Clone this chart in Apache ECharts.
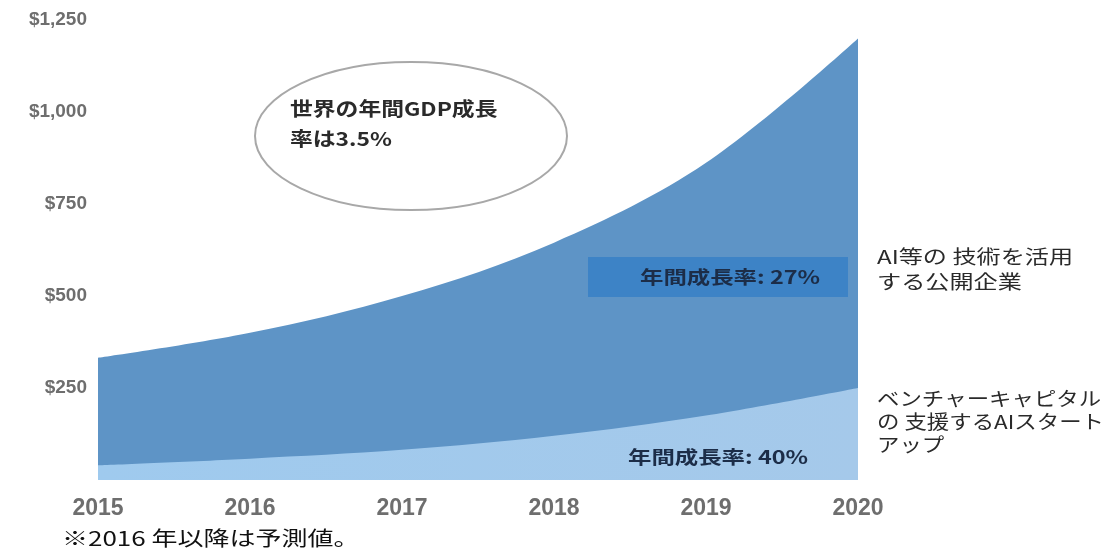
<!DOCTYPE html>
<html>
<head>
<meta charset="utf-8">
<script src="https://cdn.jsdelivr.net/npm/echarts@6/dist/echarts.min.js"></script>
<style>
  html, body { margin: 0; padding: 0; background: #ffffff; }
  #chart { width: 1108px; height: 558px; }
</style>
</head>
<body>
<div id="chart"></div>
<script>
// Market size (USD billions) by year
const years = ['2015', '2016', '2017', '2018', '2019', '2020'];
// Public companies using AI and related technologies (27% annual growth)
const publicCompanies = [332, 400, 500, 645, 862, 1200];
// VC-backed AI startups (40% annual growth)
const vcStartups = [40, 58, 82, 120, 175, 250];
// Value axis tick labels
const yTicks = [0, 250, 500, 750, 1000, 1250];
const yTickLabels = ['', '$250', '$500', '$750', '$1,000', '$1,250'];

const CJK = '"Noto Sans CJK JP", "Noto Sans", sans-serif';
const LATIN = '"Liberation Sans", Arial, sans-serif';

// Left-anchored text, optionally widened horizontally
function label(x, y, text, font, fill, lineHeight, scaleX) {
  return {
    type: 'text', x: x, y: y, scaleX: scaleX || 1, scaleY: 1, z: 11,
    style: {
      text: text, font: font, fill: fill,
      lineHeight: lineHeight, align: 'left', verticalAlign: 'top'
    }
  };
}

const chart = echarts.init(document.getElementById('chart'));

chart.setOption({
  animation: false,
  backgroundColor: '#ffffff',
  grid: { left: 98, right: 250, top: 20, bottom: 78 },
  xAxis: {
    type: 'category',
    data: years,
    boundaryGap: false,
    axisLine: { show: false },
    axisTick: { show: false },
    axisLabel: {
      color: '#6e6e6e', fontSize: 23, fontWeight: 'bold', fontFamily: LATIN,
      margin: 17, showMinLabel: true, showMaxLabel: true
    },
    splitLine: { show: false }
  },
  yAxis: {
    type: 'value',
    min: 0, max: 1250, interval: 250,
    axisLine: { show: false },
    axisTick: { show: false },
    splitLine: { show: false },
    axisLabel: {
      color: '#6e6e6e', fontSize: 19, fontWeight: 'bold', fontFamily: LATIN,
      margin: 11,
      formatter: v => yTickLabels[yTicks.indexOf(v)] ?? ''
    }
  },
  series: [
    {
      name: 'AI等の技術を活用する公開企業',
      type: 'line',
      data: publicCompanies,
      smooth: 0.35,
      showSymbol: false,
      lineStyle: { width: 0 },
      areaStyle: { color: '#5e94c6', opacity: 1 },
      z: 2
    },
    {
      name: 'ベンチャーキャピタルの支援するAIスタートアップ',
      type: 'line',
      data: vcStartups,
      smooth: 0.35,
      showSymbol: false,
      lineStyle: { width: 0 },
      areaStyle: {
        opacity: 1,
        color: new echarts.graphic.LinearGradient(0, 0, 1, 0, [
          { offset: 0, color: '#9fcaee' },
          { offset: 1, color: '#a5c9ea' }
        ])
      },
      z: 3
    }
  ],
  graphic: [
    // GDP callout
    {
      type: 'ellipse',
      shape: { cx: 411, cy: 136, rx: 156, ry: 74 },
      style: { fill: '#ffffff', stroke: '#a8a8a8', lineWidth: 2 },
      z: 10
    },
    label(290, 94, '世界の年間GDP成長\n率は3.5%', 'bold 19px ' + CJK, '#2a2a2a', 30, 1.2),
    // Growth-rate tag for public companies
    {
      type: 'rect',
      shape: { x: 588, y: 257, width: 260, height: 40 },
      style: { fill: '#3d83c6' },
      z: 10
    },
    label(640, 265, '年間成長率: 27%', 'bold 18px ' + CJK, '#1c2d48', 24, 1.3),
    // Growth-rate tag for startups
    label(628, 445, '年間成長率: 40%', 'bold 18px ' + CJK, '#1c2d48', 24, 1.3),
    // Series labels on the right
    label(877, 244, 'AI等の 技術を活用\nする公開企業', '19px ' + CJK, '#2a2a2a', 25, 1.27),
    label(877, 387, 'ベンチャーキャピタル\nの 支援するAIスタート\nアップ', '19px ' + CJK, '#2a2a2a', 23, 1.18),
    // Footnote
    label(62, 526, '※2016 年以降は予測値。', '20px ' + CJK, '#111111', 24, 1.3)
  ]
});
</script>
</body>
</html>
